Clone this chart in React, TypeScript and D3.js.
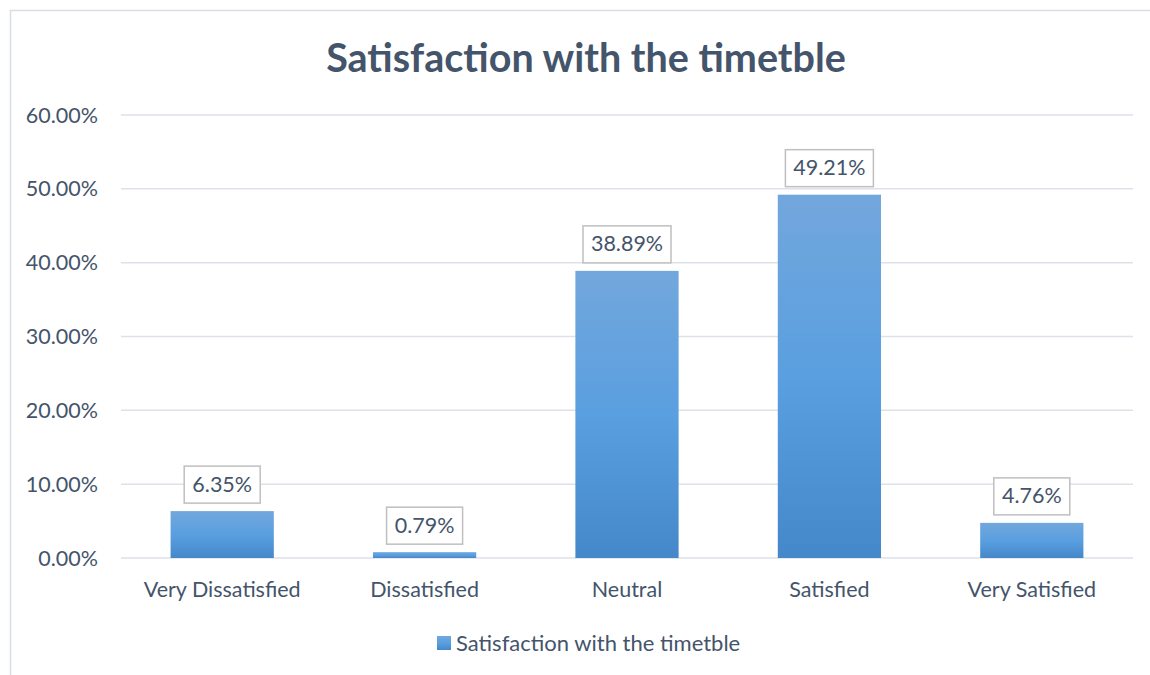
import React, { useEffect, useRef } from 'react';
import * as d3 from 'd3';

const categories = ['Very Dissatisfied', 'Dissatisfied', 'Neutral', 'Satisfied', 'Very Satisfied'];
const values = [6.35, 0.79, 38.89, 49.21, 4.76];
const yTicks = [0, 10, 20, 30, 40, 50, 60];
const seriesName = 'Satisfaction with the timetble';
const title = 'Satisfaction with the timetble';

const width = 1150;
const height = 675;
const padding = { left: 121, right: 17, top: 115, down: 117 };
const font = 'Lato, "Open Sans", sans-serif';
const textColor = '#44546A';
const fontSize = 21.5;

export default function App() {
  const ref = useRef<SVGSVGElement>(null);

  useEffect(() => {
    const svg = d3.select(ref.current);
    svg.selectAll('*').remove();

    // gradient for bars
    const grad = svg.append('defs').append('linearGradient')
      .attr('id', 'barGrad')
      .attr('x1', 0).attr('y1', 0).attr('x2', 0).attr('y2', 1);
    grad.append('stop').attr('offset', '0%').attr('stop-color', '#72A7DC');
    grad.append('stop').attr('offset', '50%').attr('stop-color', '#5A9FE0');
    grad.append('stop').attr('offset', '100%').attr('stop-color', '#4488CA');

    // chart frame
    svg.append('rect')
      .attr('x', 10.5).attr('y', 10.5)
      .attr('width', width + 20).attr('height', height + 20)
      .attr('fill', 'white')
      .attr('stroke', '#D9DEE6')
      .attr('stroke-width', 1.5);

    const xScale = d3.scaleBand()
      .domain(categories)
      .range([padding.left, width - padding.right])
      .paddingInner(0.49)
      .paddingOuter(0.245);

    const yScale = d3.scaleLinear()
      .domain([0, 60])
      .range([height - padding.down, padding.top]);

    // title
    svg.append('text')
      .attr('x', 586).attr('y', 72)
      .attr('text-anchor', 'middle')
      .attr('font-family', font)
      .attr('font-weight', 'bold')
      .attr('font-size', 39.5)
      .attr('fill', textColor)
      .text(title);

    // gridlines
    svg.append('g')
      .selectAll('line')
      .data(yTicks)
      .join('line')
      .attr('x1', padding.left)
      .attr('x2', width - padding.right)
      .attr('y1', d => yScale(d))
      .attr('y2', d => yScale(d))
      .attr('stroke', '#DDE2EA')
      .attr('stroke-width', 1.5);

    // y tick labels
    svg.append('g')
      .selectAll('text')
      .data(yTicks)
      .join('text')
      .attr('x', 98)
      .attr('y', d => yScale(d))
      .attr('dy', '0.35em')
      .attr('text-anchor', 'end')
      .attr('font-family', font)
      .attr('font-size', fontSize)
      .attr('fill', textColor)
      .text(d => d3.format('.2f')(d) + '%');

    // bars
    svg.append('g')
      .selectAll('rect')
      .data(values)
      .join('rect')
      .attr('x', (d, i) => xScale(categories[i])!)
      .attr('width', xScale.bandwidth())
      .attr('y', d => yScale(d))
      .attr('height', d => yScale(0) - yScale(d))
      .attr('fill', 'url(#barGrad)');

    // x labels
    svg.append('g')
      .selectAll('text')
      .data(categories)
      .join('text')
      .attr('x', d => xScale(d)! + xScale.bandwidth() / 2)
      .attr('y', yScale(0) + 39)
      .attr('text-anchor', 'middle')
      .attr('font-family', font)
      .attr('font-size', fontSize)
      .attr('fill', textColor)
      .text(d => d);

    // data labels
    const labels = svg.append('g')
      .selectAll('g')
      .data(values)
      .join('g')
      .attr('transform', (d, i) => `translate(${xScale(categories[i])! + xScale.bandwidth() / 2}, ${yScale(d) - 27})`);

    labels.append('rect')
      .attr('x', d => -(d >= 10 ? 44 : 38))
      .attr('width', d => (d >= 10 ? 88 : 76))
      .attr('y', -18)
      .attr('height', 37)
      .attr('fill', 'white')
      .attr('stroke', '#BFBFBF')
      .attr('stroke-width', 1.5);

    labels.append('text')
      .attr('text-anchor', 'middle')
      .attr('dy', '0.35em')
      .attr('font-family', font)
      .attr('font-size', fontSize)
      .attr('fill', textColor)
      .text(d => d3.format('.2f')(d) + '%');

    // legend
    const legend = svg.append('g').attr('transform', 'translate(437, 643)');
    legend.append('rect')
      .attr('x', 0).attr('y', -7)
      .attr('width', 14).attr('height', 14)
      .attr('fill', 'url(#barGrad)');
    legend.append('text')
      .attr('x', 19)
      .attr('dy', '0.35em')
      .attr('font-family', font)
      .attr('font-size', 22)
      .attr('fill', textColor)
      .text(seriesName);
  }, []);

  return (
    <svg ref={ref} width={width} height={height}
      style={{ position: 'absolute', left: 0, top: 0, display: 'block' }} />
  );
}
